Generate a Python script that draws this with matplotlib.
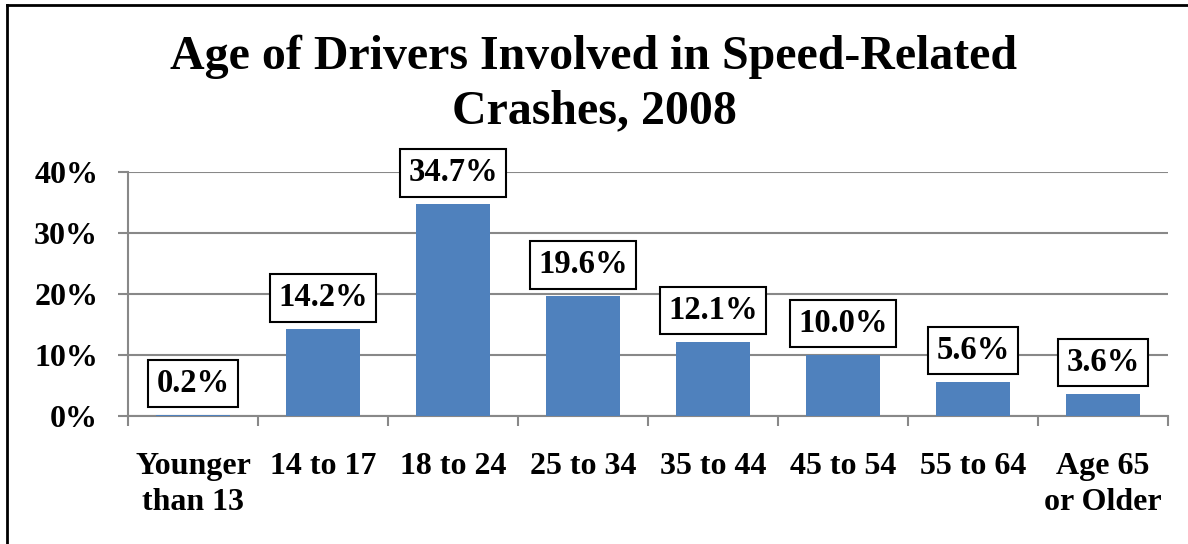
import numpy as np
import matplotlib.pyplot as plt
from matplotlib.lines import Line2D

# Data
groups = ["Younger\nthan 13", "14 to 17", "18 to 24", "25 to 34",
          "35 to 44", "45 to 54", "55 to 64", "Age 65\nor Older"]
shares = [0.2, 14.2, 34.7, 19.6, 12.1, 10.0, 5.6, 3.6]
yticks = [0, 10, 20, 30, 40]

plt.rcParams['font.family'] = 'Liberation Serif'
plt.rcParams['font.weight'] = 'bold'

fig = plt.figure(figsize=(11.88, 5.44), dpi=100)
ax = fig.add_axes([128/1188, 1-416/544, 1040/1188, 244/544])

x = np.arange(len(groups))
ax.bar(x, shares, width=0.57, color='#4F81BD', zorder=3)

# boxed value labels
for xi, v in zip(x, shares):
    ax.annotate(f"{v:.1f}%", (xi, v), xytext=(0, 11.5), textcoords='offset points',
                ha='center', va='bottom', fontsize=23.5, fontweight='bold',
                bbox=dict(boxstyle='square,pad=0.25', fc='white', ec='black', lw=1.5),
                zorder=5)

ax.set_xlim(-0.5, len(groups) - 0.5)
ax.set_ylim(0, 40)
ax.set_yticks(yticks)
ax.set_yticklabels([f"{t}%" for t in yticks])
ax.set_xticks(x)
ax.set_xticklabels(groups, linespacing=1.3)
ax.set_xticks(np.arange(-0.5, len(groups)), minor=True)

ax.tick_params(axis='x', which='major', length=0, pad=26, labelsize=23)
ax.tick_params(axis='x', which='minor', length=7.5, width=1.5, color='#888888')
ax.tick_params(axis='y', length=7.5, width=1.5, color='#888888', pad=14, labelsize=23)

ax.grid(axis='y', color='#888888', lw=1.5, zorder=0)
for s in ['top', 'right']:
    ax.spines[s].set_visible(False)
for s in ['left', 'bottom']:
    ax.spines[s].set_color('#888888')
    ax.spines[s].set_linewidth(1.5)

fig.text(0.5, 1-84/544, "Age of Drivers Involved in Speed-Related\nCrashes, 2008",
         ha='center', va='center', fontsize=34.5, fontweight='bold', linespacing=1.3)

# outer border (left and top)
fig.add_artist(Line2D([7/1188, 7/1188], [0, 1-5/544], color='black', lw=2))
fig.add_artist(Line2D([7/1188, 1], [1-5/544, 1-5/544], color='black', lw=2))

fig.savefig("out.png", dpi=100)
